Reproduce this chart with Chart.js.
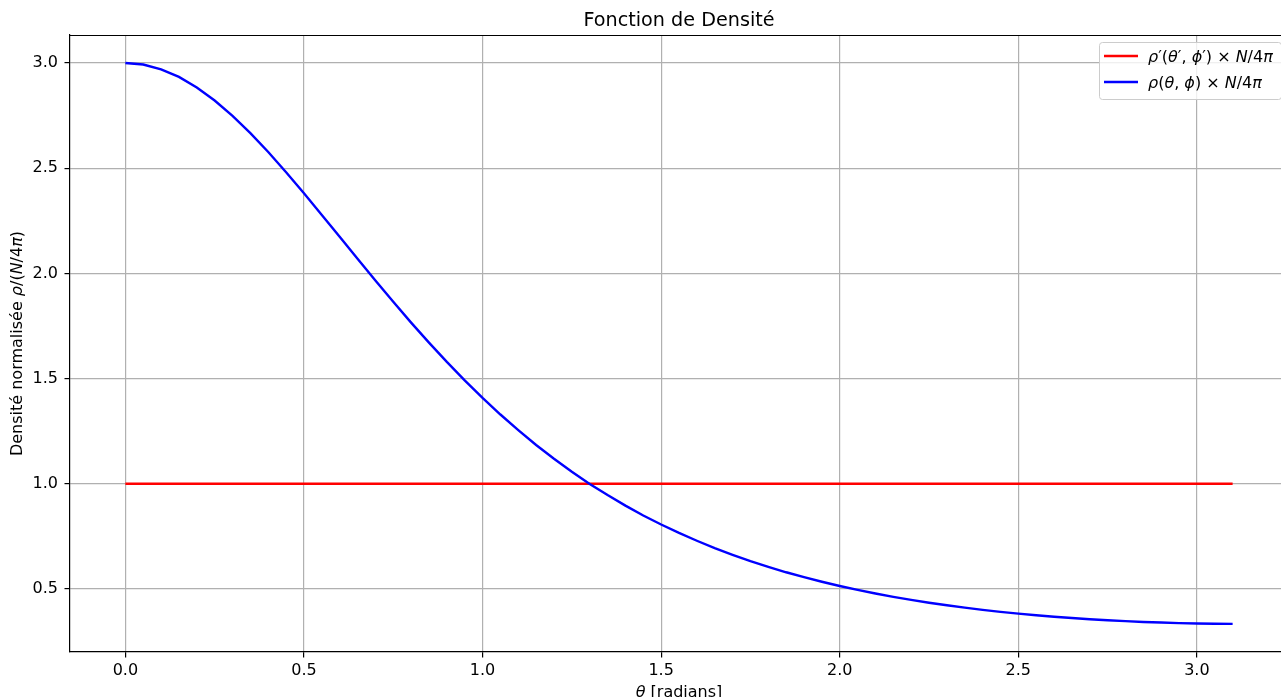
<!DOCTYPE html>
<html>
<head>
<meta charset="utf-8">
<script src="https://cdn.jsdelivr.net/npm/chart.js@4.4.1/dist/chart.umd.min.js"></script>
<style>
    html, body { margin: 0; padding: 0; background: #fff; overflow: hidden; }
    #chart { display: block; }
</style>
</head>
<body>
<canvas id="chart" width="1300" height="720"></canvas>
<script>
const thetaValues = [
    0.00, 0.05, 0.10, 0.15, 0.20, 0.25, 0.30, 0.35, 0.40, 0.45,
    0.50, 0.55, 0.60, 0.65, 0.70, 0.75, 0.80, 0.85, 0.90, 0.95,
    1.00, 1.05, 1.10, 1.15, 1.20, 1.25, 1.30, 1.35, 1.40, 1.45,
    1.50, 1.55, 1.60, 1.65, 1.70, 1.75, 1.80, 1.85, 1.90, 1.95,
    2.00, 2.05, 2.10, 2.15, 2.20, 2.25, 2.30, 2.35, 2.40, 2.45,
    2.50, 2.55, 2.60, 2.65, 2.70, 2.75, 2.80, 2.85, 2.90, 2.95,
    3.00, 3.05, 3.10
];
const rhoValues = [
    3.000, 2.993, 2.970, 2.934, 2.884, 2.822, 2.749, 2.667, 2.577, 2.481,
    2.381, 2.278, 2.174, 2.070, 1.966, 1.865, 1.766, 1.671, 1.579, 1.491,
    1.408, 1.329, 1.255, 1.184, 1.119, 1.057, 0.999, 0.946, 0.896, 0.849,
    0.806, 0.766, 0.729, 0.694, 0.662, 0.632, 0.605, 0.579, 0.556, 0.534,
    0.5139, 0.4953, 0.4781, 0.4623, 0.4477, 0.4343, 0.4220, 0.4107, 0.4004, 0.3909,
    0.3823, 0.3746, 0.3676, 0.3613, 0.3557, 0.3508, 0.3466, 0.3429, 0.3399, 0.3374,
    0.3356, 0.3343, 0.3335
];
const rhoPrimeTheta = [0.0, 3.1];
const rhoPrimeValues = [1.0, 1.0];
const xTicks = [0.0, 0.5, 1.0, 1.5, 2.0, 2.5, 3.0];
const yTicks = [0.5, 1.0, 1.5, 2.0, 2.5, 3.0];

const FONT = '"DejaVu Sans", sans-serif';

// text pieces: [string, italic]
const legendTexts = [
    [['ρ', 1], ['′(', 0], ['θ', 1], ['′, ', 0], ['ϕ', 1], ['′) × ', 0], ['N', 1], ['/4', 0], ['π', 1]],
    [['ρ', 1], ['(', 0], ['θ', 1], [', ', 0], ['ϕ', 1], [') × ', 0], ['N', 1], ['/4', 0], ['π', 1]]
];
const yTitle = [['Densité normalisée ', 0], ['ρ', 1], ['/(', 0], ['N', 1], ['/4', 0], ['π', 1], [')', 0]];
const xTitle = [['θ', 1], [' [radians]', 0]];

function richWidth(ctx, parts, size) {
    let w = 0;
    parts.forEach(p => {
        ctx.font = (p[1] ? 'italic ' : '') + size + 'px ' + FONT;
        w += ctx.measureText(p[0]).width;
    });
    return w;
}

function drawRich(ctx, parts, x, y, size, align) {
    let cx = align === 'center' ? x - richWidth(ctx, parts, size) / 2 : x;
    ctx.textAlign = 'left';
    ctx.textBaseline = 'alphabetic';
    parts.forEach(p => {
        ctx.font = (p[1] ? 'italic ' : '') + size + 'px ' + FONT;
        ctx.fillText(p[0], cx, y);
        cx += ctx.measureText(p[0]).width;
    });
}

const decorations = {
    id: 'decorations',
    afterDraw(chart) {
        const ctx = chart.ctx;
        const a = chart.chartArea;
        ctx.save();
        // top spine
        ctx.strokeStyle = '#000';
        ctx.lineWidth = 1.2;
        ctx.beginPath();
        ctx.moveTo(a.left, a.top + 0.5);
        ctx.lineTo(a.right, a.top + 0.5);
        ctx.stroke();

        ctx.fillStyle = '#000';
        // title
        ctx.font = '19.2px ' + FONT;
        ctx.textAlign = 'center';
        ctx.textBaseline = 'alphabetic';
        ctx.fillText('Fonction de Densité', (a.left + a.right) / 2, 26);

        // axis titles
        drawRich(ctx, xTitle, (a.left + a.right) / 2, 696.5, 16, 'center');
        ctx.save();
        ctx.translate(22, (a.top + a.bottom) / 2);
        ctx.rotate(-Math.PI / 2);
        drawRich(ctx, yTitle, 0, 0, 16, 'center');
        ctx.restore();

        // legend
        ctx.beginPath();
        ctx.roundRect(1099.5, 42.5, 182, 57, 3);
        ctx.fillStyle = 'rgba(255,255,255,0.8)';
        ctx.fill();
        ctx.strokeStyle = '#cccccc';
        ctx.lineWidth = 1;
        ctx.stroke();
        chart.data.datasets.forEach((ds, i) => {
            const y = 56 + 26 * i;
            ctx.strokeStyle = ds.borderColor;
            ctx.lineWidth = 2.4;
            ctx.beginPath();
            ctx.moveTo(1104, y);
            ctx.lineTo(1138, y);
            ctx.stroke();
            ctx.fillStyle = '#000';
            drawRich(ctx, legendTexts[i], 1148, y + 5.5, 16, 'left');
        });
        ctx.restore();
    }
};

const axisFont = { family: FONT, size: 16 };

new Chart(document.querySelector('#chart').getContext('2d'), {
    type: 'line',
    data: {
        datasets: [
            {
                label: "ρ'(θ', ϕ') × N/4π",
                data: rhoPrimeTheta.map((t, i) => ({ x: t, y: rhoPrimeValues[i] })),
                borderColor: '#ff0000',
                borderWidth: 2.4,
                pointRadius: 0,
                order: 1
            },
            {
                label: 'ρ(θ, ϕ) × N/4π',
                data: thetaValues.map((t, i) => ({ x: t, y: rhoValues[i] })),
                borderColor: '#0000ff',
                borderWidth: 2.4,
                pointRadius: 0,
                order: 0
            }
        ]
    },
    options: {
        responsive: false,
        animation: false,
        layout: { padding: { top: 35, right: 12, left: 0, bottom: 0 } },
        plugins: {
            legend: { display: false },
            title: { display: false },
            tooltip: { enabled: false }
        },
        scales: {
            x: {
                type: 'linear',
                min: -0.155,
                max: 3.255,
                afterBuildTicks: s => { s.ticks = xTicks.map(v => ({ value: v })); },
                afterFit: s => { s.height = 68; },
                ticks: {
                    callback: v => v.toFixed(1),
                    font: axisFont,
                    color: '#000',
                    padding: 4,
                    maxRotation: 0,
                    autoSkip: false
                },
                grid: { color: '#b0b0b0', lineWidth: 1.2, tickLength: 5.5, tickColor: '#000', tickWidth: 1.2 },
                border: { color: '#000', width: 1.2 }
            },
            y: {
                min: 0.2,
                max: 3.1333,
                afterBuildTicks: s => { s.ticks = yTicks.map(v => ({ value: v })); },
                afterFit: s => { s.width = 70; },
                ticks: {
                    callback: v => v.toFixed(1),
                    font: axisFont,
                    color: '#000',
                    padding: 6.5,
                    autoSkip: false
                },
                grid: { color: '#b0b0b0', lineWidth: 1.2, tickLength: 5.5, tickColor: '#000', tickWidth: 1.2 },
                border: { color: '#000', width: 1.2 }
            }
        }
    },
    plugins: [decorations]
});
</script>
</body>
</html>
